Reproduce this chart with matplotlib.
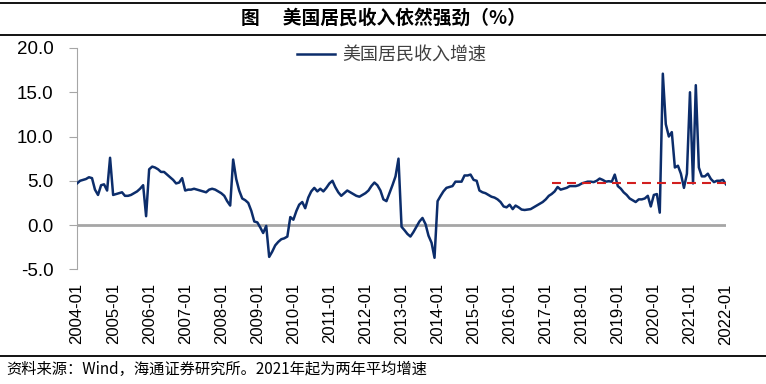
"""
美国居民收入增速 - monthly YoY line with 2021+ two-year average reference
"""

import pandas as pd
import matplotlib
matplotlib.use('Agg')
import matplotlib.pyplot as plt
from matplotlib.lines import Line2D

plt.rcParams['font.family'] = ['Liberation Sans', 'Noto Sans CJK SC', 'DejaVu Sans']
cjk = ['Noto Sans CJK SC', 'DejaVu Sans']

# Monthly YoY growth of US personal income (%), 2004-01 .. 2022-01
start_month = '2004-01'
income_growth = [
    4.7, 5.0, 5.1, 5.2, 5.4, 5.3, 4.0, 3.4, 4.5, 4.6, 3.9, 7.6,          # 2004
    3.4, 3.5, 3.6, 3.7, 3.3, 3.3, 3.4, 3.6, 3.8, 4.1, 4.5, 1.0,          # 2005
    6.3, 6.6, 6.5, 6.3, 6.0, 6.0, 5.7, 5.4, 5.1, 4.7, 4.8, 5.3,          # 2006
    3.9, 4.0, 4.0, 4.1, 4.0, 3.9, 3.8, 3.7, 4.0, 4.1, 4.0, 3.8,          # 2007
    3.6, 3.3, 2.7, 2.2, 7.4, 5.2, 3.9, 3.0, 2.8, 2.5, 1.6, 0.4,          # 2008
    0.3, -0.3, -0.9, -0.1, -3.6, -3.0, -2.3, -1.9, -1.6, -1.5, -1.3, 0.9,  # 2009
    0.6, 1.6, 2.3, 2.6, 1.9, 3.1, 3.8, 4.2, 3.8, 4.1, 3.8, 4.2,          # 2010
    4.7, 5.0, 4.3, 3.7, 3.3, 3.6, 3.9, 3.7, 3.5, 3.3, 3.2, 3.4,          # 2011
    3.6, 3.9, 4.4, 4.8, 4.5, 3.9, 2.9, 2.7, 3.6, 4.5, 5.5, 7.5,          # 2012
    -0.2, -0.6, -1.0, -1.3, -0.8, -0.2, 0.4, 0.8, 0.1, -1.2, -2.0, -3.7,  # 2013
    2.7, 3.3, 3.8, 4.2, 4.3, 4.4, 4.9, 4.9, 4.9, 5.6, 5.6, 5.7,          # 2014
    5.1, 5.0, 3.9, 3.7, 3.6, 3.4, 3.2, 3.1, 2.9, 2.6, 2.1, 2.0,          # 2015
    2.3, 1.8, 2.2, 2.0, 1.75, 1.7, 1.75, 1.8, 2.0, 2.2, 2.4, 2.6,        # 2016
    2.9, 3.3, 3.5, 3.8, 4.3, 4.0, 4.1, 4.2, 4.4, 4.4, 4.4, 4.5,          # 2017
    4.7, 4.8, 4.9, 4.9, 4.85, 5.0, 5.25, 5.1, 4.9, 4.95, 4.9, 5.7,       # 2018
    4.4, 4.1, 3.7, 3.4, 3.0, 2.8, 2.6, 2.9, 2.9, 3.0, 3.3, 2.1,          # 2019
    3.4, 3.5, 1.4, 17.1, 11.4, 10.0, 10.5, 6.5, 6.7, 5.8, 4.2, 5.8,      # 2020
    15.0, 4.7, 15.8, 6.5, 5.5, 5.5, 5.8, 5.2, 4.85, 5.0, 5.0, 5.1,       # 2021
    4.6,                                                                 # 2022
]

# red dashed reference level
avg_start = '2017-03'
avg_value = 4.7

tick_years = list(range(2004, 2023))
y_ticks = [-5, 0, 5, 10, 15, 20]

dates = pd.date_range(start_month, periods=len(income_growth), freq='MS')
avg_dates = pd.date_range(avg_start, dates[-1], freq='MS')

fig = plt.figure(figsize=(7.66, 3.84), dpi=100)
ax = fig.add_axes([77 / 766, 1 - 269.3 / 384, (726 - 77) / 766, (269.3 - 48) / 384])

ax.axhline(0, color='#a6a6a6', lw=2, zorder=1)
ax.plot(dates, income_growth, color='#0c2d6b', lw=1.8, label='美国居民收入增速', zorder=3)
ax.plot(avg_dates, [avg_value] * len(avg_dates), color='#d21f1f', lw=1.5,
        linestyle=(0, (4.3, 2.9)), zorder=4)

ax.set_xlim(dates[0], dates[-1])
ax.set_ylim(-5, 20)
ax.set_yticks(y_ticks)
ax.set_yticklabels([f'{v:.1f}' for v in y_ticks], fontsize=13.5)
ax.set_xticks([pd.Timestamp(f'{y}-01-01') for y in tick_years])
ax.set_xticklabels([f'{y}-01' for y in tick_years], rotation=90, fontsize=12)

for side in ['top', 'right', 'bottom']:
    ax.spines[side].set_visible(False)
ax.spines['left'].set_color('#a6a6a6')
ax.tick_params(axis='y', color='#a6a6a6', length=6, pad=11)
ax.tick_params(axis='x', length=0, pad=10)

leg = ax.legend(loc='center', bbox_to_anchor=(0.485, 0.968), frameon=False,
                handlelength=2.1, handletextpad=0.4, prop={'family': cjk, 'size': 13})
for t in leg.get_texts():
    t.set_color('#404040')

# header / footer
fig.text(0.5, 1 - 18 / 384, '图\u3000 美国居民收入依然强劲（%）', ha='center', va='center',
         fontsize=13.5, fontweight='bold', family=cjk)
fig.text(6 / 766, 1 - 369 / 384, '资料来源：Wind，海通证券研究所。2021年起为两年平均增速',
         ha='left', va='center', fontsize=11, family=cjk)
for y in [3, 35, 356]:
    fig.add_artist(Line2D([0, 1], [1 - y / 384] * 2, transform=fig.transFigure,
                          color='black', lw=1.3))

fig.savefig('out.png', dpi=100)
